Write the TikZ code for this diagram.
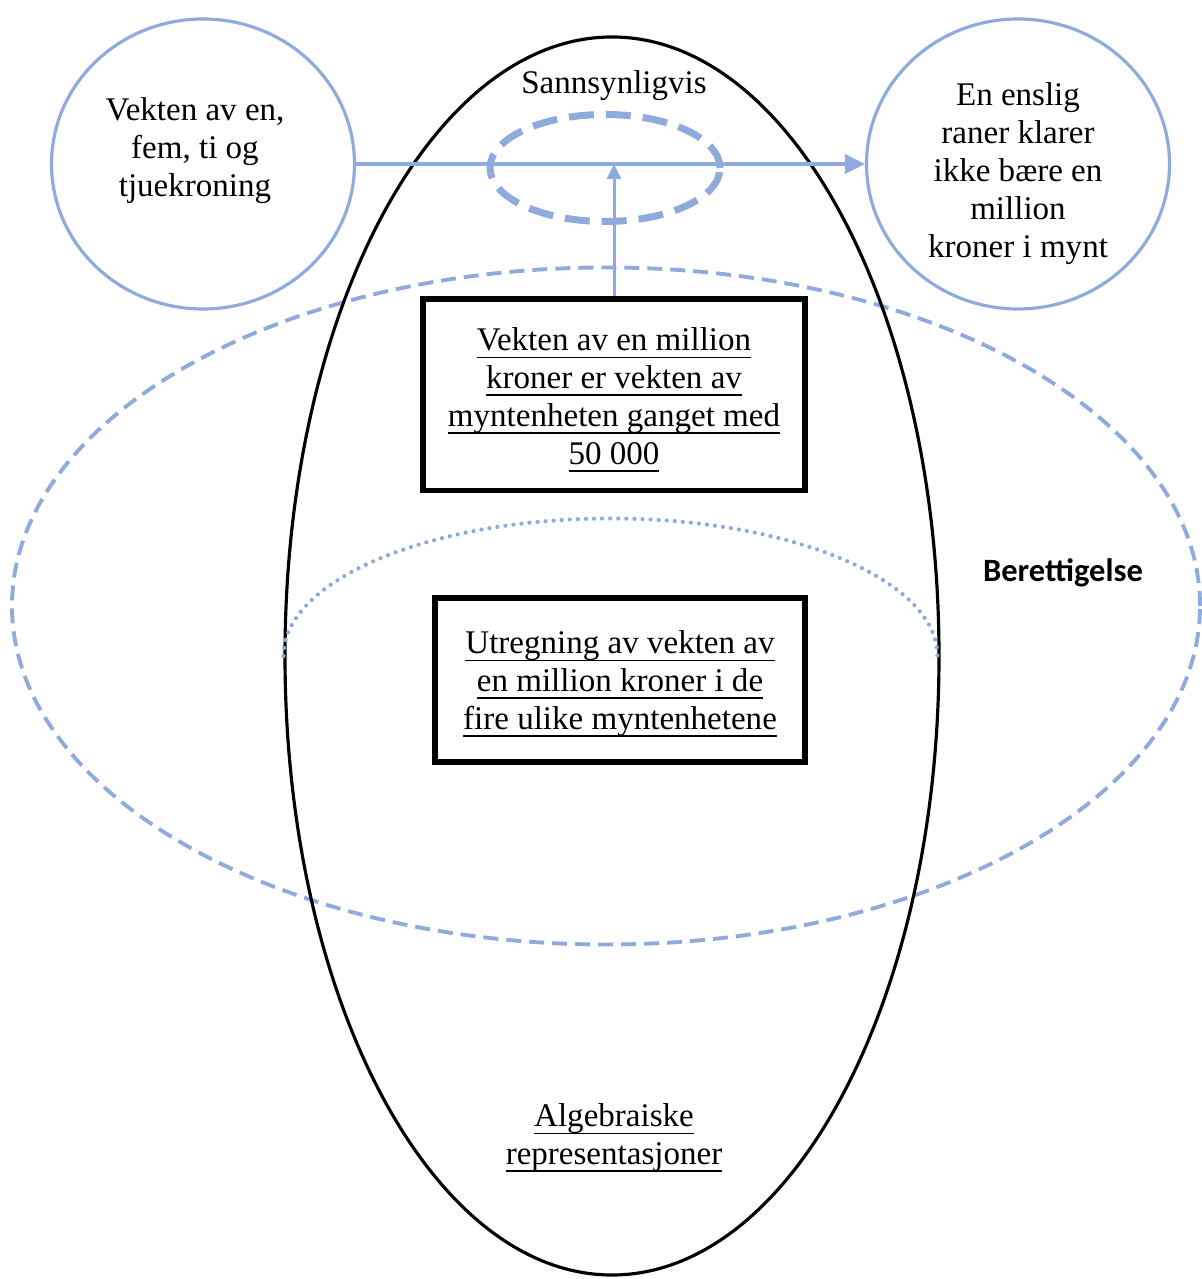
\documentclass[tikz,border=0pt]{standalone}
\usepackage{fontspec}
\setmainfont{Liberation Serif}
\newfontfamily\calibri{Carlito}
\newcommand{\uln}[1]{\setbox0\hbox{#1}\rlap{\rule[-4.5pt]{\wd0}{1.1pt}}\box0}
\usetikzlibrary{shapes.geometric, arrows.meta, positioning}
\definecolor{lblue}{HTML}{8FAADC}

\begin{document}
\begin{tikzpicture}[
    font=\fontsize{18.8}{21.6}\selectfont,
    box/.style={rectangle, draw=black, line width=3.4pt, align=center, inner sep=0pt},
    bubble/.style={ellipse, draw=lblue, line width=1.8pt, minimum width=6.06cm, minimum height=5.8cm},
    txt/.style={align=center, inner sep=0pt},
    link/.style={draw=lblue, line width=2.2pt, -{Triangle[length=4mm, width=3.8mm]}}
]
    \useasboundingbox (0,0) rectangle (24.02,25.58);

    % Berettigelse (wide dashed ellipse)
    \node[ellipse, draw=lblue, line width=2.2pt, dash pattern=on 0.3cm off 0.16cm,
          minimum width=23.76cm, minimum height=13.54cm] (just) at (12.12,13.46) {};
    \node[font=\calibri\bfseries\fontsize{18.5}{22}\selectfont] (justlbl) at (21.26,14.12) {Berettigelse};

    % Algebraic representations (tall ellipse)
    \node[ellipse, draw=black, line width=1.8pt, minimum width=13.08cm, minimum height=24.76cm] (alg) at (12.24,12.46) {};
    \draw[lblue, line width=2.4pt, line cap=round, dash pattern=on 0pt off 4.6pt]
        (alg.west) arc[start angle=180, end angle=0, x radius=6.54, y radius=2.75];
    \node[txt] (sann) at (12.28,23.86) {Sannsynligvis};
    \node[txt] (algtxt) at (12.28,2.82) {\uln{Algebraiske}\\ \uln{representasjoner}};

    % Boxes
    \node[box, minimum width=7.64cm, minimum height=3.82cm] (weight) at (12.28,17.68) {};
    \node[txt] (weighttxt) at (12.28,17.58)
        {\uln{Vekten av en million}\\ \uln{kroner er vekten av}\\ \uln{myntenheten ganget med}\\ \uln{50 000}};
    \node[box, minimum width=7.4cm, minimum height=3.28cm] (calc) at (12.4,11.98) {};
    \node[txt] (calctxt) at (12.4,11.9)
        {\uln{Utregning av vekten av}\\ \uln{en million kroner i de}\\ \uln{fire ulike myntenhetene}};

    % Bubbles
    \node[bubble] (coins) at (4.06,22.3) {};
    \node[txt] (coinstxt) at (3.9,22.56) {Vekten av en,\\ fem, ti og\\ tjuekroning};
    \node[bubble] (robber) at (20.36,22.3) {};
    \node[txt] (robbertxt) at (20.36,22.1) {En enslig\\ raner klarer\\ ikke bære en\\ million\\ kroner i mynt};

    % Probable (small dashed ellipse)
    \node[ellipse, draw=lblue, line width=4pt, dash pattern=on 0.5cm off 0.24cm,
          minimum width=4.6cm, minimum height=2.14cm] (prob) at (12.1,22.22) {};

    % Connections
    \draw[link] (coins.east) -- (robber.west);
    \draw[draw=lblue, line width=1.7pt, -{Triangle[length=3mm, width=2.8mm]}] (weight.north) -- (weight.north |- coins.east);
\end{tikzpicture}
\end{document}
